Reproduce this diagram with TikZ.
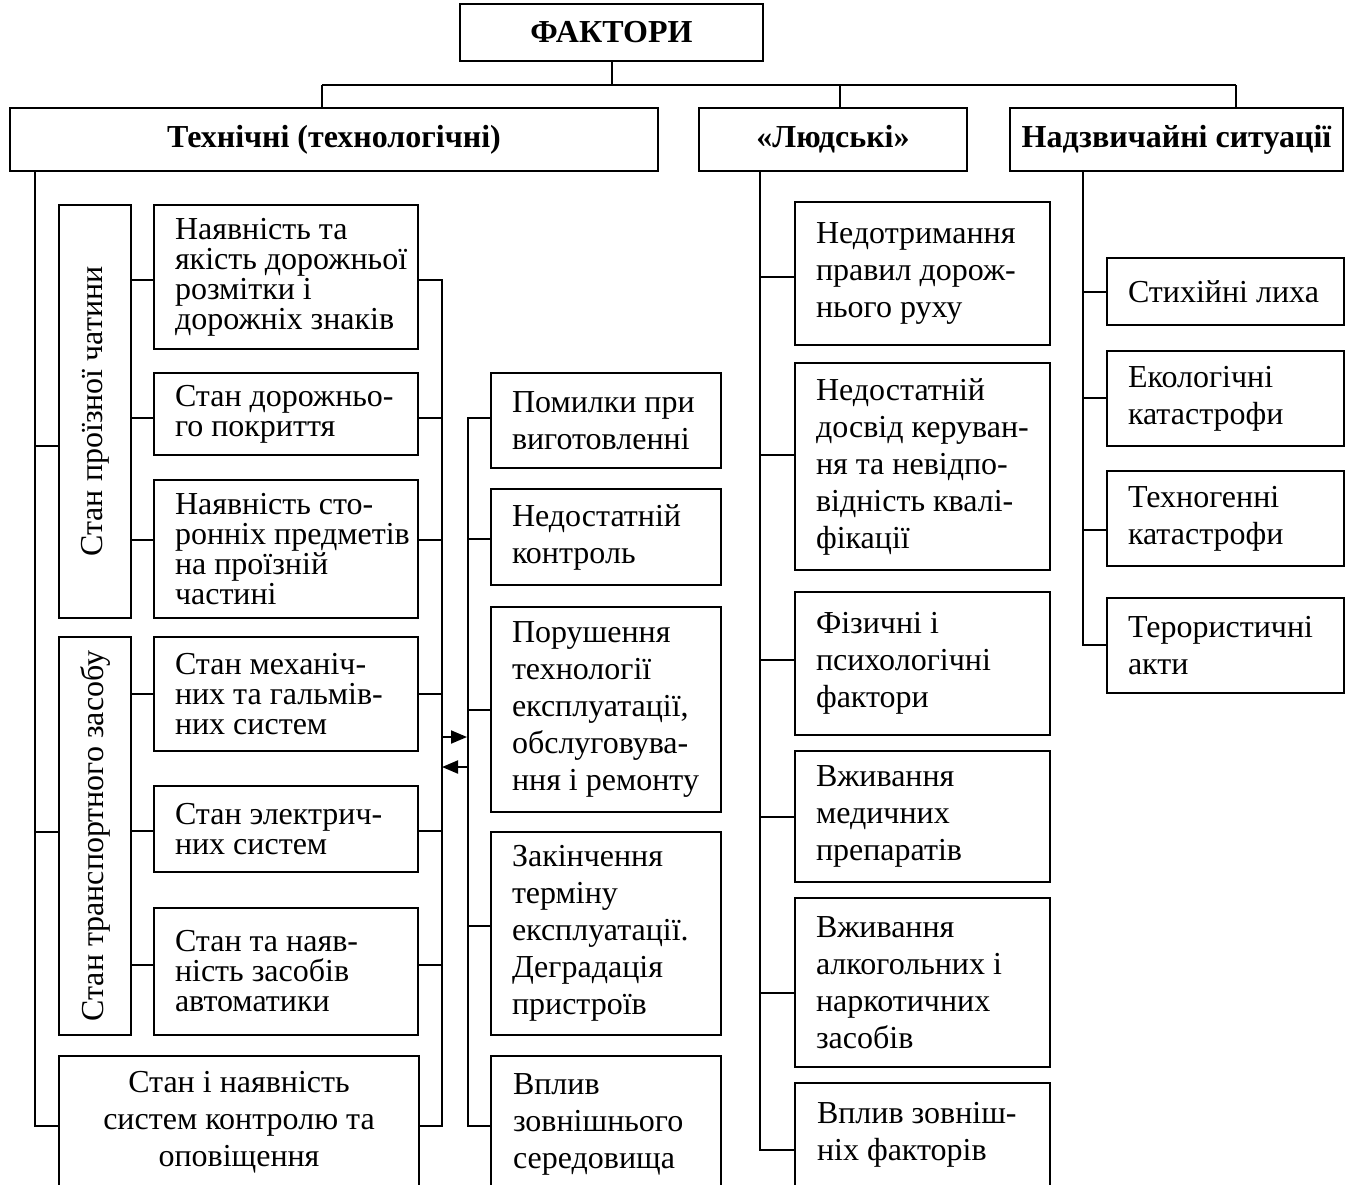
\documentclass[tikz,border=0pt]{standalone}
\usepackage{fontspec}
\setmainfont{Liberation Serif}
\usetikzlibrary{fit,arrows.meta}
\newcommand\mybx[5]{\node[bx, fit={(#2,#3) (#4,#5)}] (#1) {};}
\begin{document}
\begin{tikzpicture}[x=0.5pt,y=-0.5pt, line width=1pt,
  bx/.style={draw, inner sep=0pt, line width=1pt},
  hd/.style={inner sep=0pt, font=\fontsize{16}{18}\selectfont\bfseries},
  tA/.style={inner sep=0pt, align=left, anchor=west, font=\fontsize{16}{15}\selectfont},
  tB/.style={inner sep=0pt, align=left, anchor=west, font=\fontsize{16}{18.5}\selectfont},
  tV/.style={inner sep=0pt, rotate=90, font=\fontsize{16}{18}\selectfont},
  arr/.style={-{Triangle[length=8pt,width=6.5pt]}}]
\useasboundingbox (0,0) rectangle (1352,1184);
\clip (0,0) rectangle (1352,1184);
\fill[white] (0,0) rectangle (1352,1184);
% headers
\mybx{fakt}{460}{4}{763}{61}
\node[hd] (faktt) at (fakt.center) {ФАКТОРИ};
\mybx{tech}{10}{108}{658}{171}
\node[hd] (techt) at (tech.center) {Технічні (технологічні)};
\mybx{lud}{699}{108}{967}{171}
\node[hd] (ludt) at (lud.center) {«Людські»};
\mybx{nad}{1010}{108}{1343}{171}
\node[hd] (nadt) at (nad.center) {Надзвичайні ситуації};
% top connectors
\coordinate (hl) at (322,85);
\coordinate (hr) at (1236,85);
\draw (fakt.south) -- (fakt.south |- hl);
\draw (hl) -- (hr);
\draw (hl) -- (hl |- tech.north);
\draw (840,85) -- (lud.north -| 840,0);
\draw (hr) -- (hr |- nad.north);
% technical group boxes
\mybx{p}{59}{205}{131}{618}
\node[tV] (pt) at (p.center) {Стан проїзної чатини};
\mybx{a1}{154}{205}{418}{349}
\node[tA] (a1t) at ([xshift=10.5pt]a1.west) {Наявність та\\якість дорожньої\\розмітки і\\дорожніх знаків};
\mybx{a2}{154}{373}{418}{455}
\node[tA] (a2t) at ([xshift=10.5pt]a2.west) {Стан дорожньо-\\го покриття};
\mybx{a3}{154}{480}{418}{618}
\node[tA] (a3t) at ([xshift=10.5pt]a3.west) {Наявність сто-\\ронніх предметів\\на проїзній\\частині};
\mybx{t}{59}{637}{131}{1035}
\node[tV] (tt) at (t.center) {Стан транспортного засобу};
\mybx{b1}{154}{637}{418}{751}
\node[tA] (b1t) at ([xshift=10.5pt]b1.west) {Стан механіч-\\них та гальмів-\\них систем};
\mybx{b2}{154}{786}{418}{872}
\node[tA] (b2t) at ([xshift=10.5pt]b2.west) {Стан электрич-\\них систем};
\mybx{b3}{154}{908}{418}{1035}
\node[tA] (b3t) at ([xshift=10.5pt]b3.west) {Стан та наяв-\\ність засобів\\автоматики};
\mybx{c}{59}{1056}{419}{1200}
\node[tB, align=center, anchor=center] (ct) at (239,1122) {Стан і наявність\\систем контролю та\\оповіщення};
% middle group
\mybx{m1}{491}{373}{721}{468}
\node[tB] (m1t) at ([xshift=10.5pt]m1.west) {Помилки при\\виготовленні};
\mybx{m2}{491}{489}{721}{585}
\node[tB] (m2t) at ([xshift=10.5pt]m2.west) {Недостатній\\контроль};
\mybx{m3}{491}{607}{721}{812}
\node[tB] (m3t) at ([xshift=10.5pt]m3.west) {Порушення\\технології\\експлуатації,\\обслуговува-\\ння і ремонту};
\mybx{m4}{491}{832}{721}{1035}
\node[tB] (m4t) at ([xshift=10.5pt]m4.west) {Закінчення\\терміну\\експлуатації.\\Деградація\\пристроїв};
\mybx{m5}{491}{1056}{721}{1200}
\node[tB] (m5t) at (512,1124) {Вплив\\зовнішнього\\середовища};
% human group
\mybx{l1}{795}{202}{1050}{345}
\node[tB] (l1t) at ([xshift=10.5pt]l1.west) {Недотримання\\правил дорож-\\нього руху};
\mybx{l2}{795}{363}{1050}{570}
\node[tB] (l2t) at ([xshift=10.5pt]l2.west) {Недостатній\\досвід керуван-\\ня та невідпо-\\відність квалі-\\фікації};
\mybx{l3}{795}{592}{1050}{735}
\node[tB] (l3t) at ([xshift=10.5pt]l3.west) {Фізичні і\\психологічні\\фактори};
\mybx{l4}{795}{751}{1050}{882}
\node[tB] (l4t) at ([xshift=10.5pt]l4.west) {Вживання\\медичних\\препаратів};
\mybx{l5}{795}{898}{1050}{1067}
\node[tB] (l5t) at ([xshift=10.5pt]l5.west) {Вживання\\алкогольних і\\наркотичних\\засобів};
\mybx{l6}{795}{1083}{1050}{1200}
\node[tB] (l6t) at (816,1135) {Вплив зовніш-\\ніх факторів};
% emergency group
\mybx{n1}{1107}{258}{1344}{325}
\node[tB] (n1t) at ([xshift=10.5pt]n1.west) {Стихійні лиха};
\mybx{n2}{1107}{351}{1344}{446}
\node[tB] (n2t) at ([xshift=10.5pt]n2.west) {Екологічні\\катастрофи};
\mybx{n3}{1107}{471}{1344}{566}
\node[tB] (n3t) at ([xshift=10.5pt]n3.west) {Техногенні\\катастрофи};
\mybx{n4}{1107}{598}{1344}{693}
\node[tB] (n4t) at ([xshift=10.5pt]n4.west) {Терористичні\\акти};
% technical bus
\draw (tech.south -| 35,0) -- (35,1126) -- (c.west |- 35,1126);
\draw (35,446) -- (p.west |- 35,446);
\draw (35,832) -- (t.west |- 35,832);
\draw (p.east |- 0,280) -- (a1.west |- 0,280);
\draw (p.east |- 0,418) -- (a2.west |- 0,418);
\draw (p.east |- 0,540) -- (a3.west |- 0,540);
\draw (t.east |- 0,694) -- (b1.west |- 0,694);
\draw (t.east |- 0,831) -- (b2.west |- 0,831);
\draw (t.east |- 0,965) -- (b3.west |- 0,965);
% right bus
\draw (a1.east |- 0,280) -- (442,280) -- (442,1126) -- (c.east |- 0,1126);
\draw (a2.east |- 0,418) -- (442,418);
\draw (a3.east |- 0,540) -- (442,540);
\draw (b1.east |- 0,694) -- (442,694);
\draw (b2.east |- 0,831) -- (442,831);
\draw (b3.east |- 0,965) -- (442,965);
% arrows
\coordinate (ar1s) at (442,737);
\coordinate (ar1e) at (467,737);
\coordinate (ar2s) at (467,767);
\coordinate (ar2e) at (442,767);
\draw[arr] (ar1s) -- (ar1e);
\draw[arr] (ar2s) -- (ar2e);
% middle bus
\draw (m1.west |- 0,418) -- (468,418) -- (468,1126) -- (m5.west |- 0,1126);
\draw (468,539) -- (m2.west |- 0,539);
\draw (468,710) -- (m3.west |- 0,710);
\draw (468,926) -- (m4.west |- 0,926);
% human bus
\draw (lud.south -| 760,0) -- (760,1150) -- (l6.west |- 0,1150);
\draw (760,277) -- (l1.west |- 0,277);
\draw (760,455) -- (l2.west |- 0,455);
\draw (760,660) -- (l3.west |- 0,660);
\draw (760,817) -- (l4.west |- 0,817);
\draw (760,993) -- (l5.west |- 0,993);
% emergency bus
\draw (nad.south -| 1083,0) -- (1083,645) -- (n4.west |- 0,645);
\draw (1083,292) -- (n1.west |- 0,292);
\draw (1083,398) -- (n2.west |- 0,398);
\draw (1083,530) -- (n3.west |- 0,530);
\end{tikzpicture}
\end{document}
